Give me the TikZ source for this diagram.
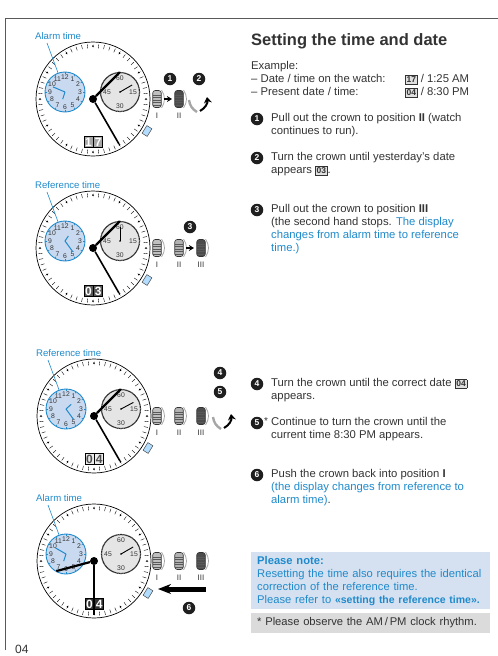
\documentclass[tikz,border=0pt]{standalone}
\usepackage{fontspec}
\setmainfont{Liberation Sans}
\usepackage{xcolor}
\usepackage{tikz}
\usetikzlibrary{positioning,arrows.meta}

\definecolor{inkblue}{HTML}{1F8ACB}
\definecolor{notefill}{HTML}{D5E1F1}
\definecolor{bluedial}{HTML}{C9DAF0}
\definecolor{inkgray}{HTML}{333333}
\newcommand{\datechip}[1]{{\setlength{\fboxsep}{.8pt}\setlength{\fboxrule}{.7pt}\fcolorbox{black!80}{black!12}{\fontsize{8.5}{8.5}\selectfont\bfseries #1}}}

\begin{document}
\begin{tikzpicture}[
  x=1pt, y=-1pt,
  dial/.style={draw, circle, line width=.7pt, minimum size=114pt, inner sep=0},
  bluesub/.style={draw=inkblue, fill=bluedial, circle, line width=.9pt, minimum size=40pt, inner sep=0},
  chronosub/.style={draw=black!85, fill=black!10, circle, line width=1.2pt, dash pattern=on .7pt off .4pt, minimum size=39pt, inner sep=0},
  hub/.style={fill=black, circle, minimum size=8pt, inner sep=0},
  pusher/.style={draw=black!70, fill=blue!45!cyan!30, line width=.5pt, minimum width=6pt, minimum height=9pt, inner sep=0},
  datecell/.style={draw, line width=.7pt, minimum width=9pt, minimum height=11pt, inner sep=0, font=\fontsize{12}{12}\selectfont\bfseries},
  dialnum/.style={inner sep=0, text=inkgray, font=\fontsize{6.8}{6.8}\selectfont},
  crown/.style={draw=black!80, fill=#1, rounded corners=2.5pt, line width=.6pt, minimum width=8.5pt, minimum height=17pt, inner sep=0,
    path picture={\foreach \rib in {-6,-3.5,...,6} {\draw[black!65, line width=.35pt] ([yshift=\rib pt]path picture bounding box.west) -- ([yshift=\rib pt]path picture bounding box.east);}}},
  crownlabel/.style={inner sep=0, text=inkgray, font=\fontsize{8}{8}\selectfont},
  stepnum/.style={fill=black!88, text=white, circle, minimum size=12.5pt, inner sep=0, font=\fontsize{8.5}{8.5}\selectfont\bfseries},
  timelabel/.style={inner sep=0, anchor=base west, text=inkblue, font=\fontsize{9.6}{9.6}\selectfont},
  para/.style={inner sep=0, anchor=north west, align=left, text=inkgray, font=\fontsize{11.3}{13}\selectfont, execute at begin node=\strut},
  notebox/.style={fill=notefill, anchor=north west, text width=227pt, align=left, inner xsep=6pt, inner ysep=2.5pt, minimum height=57pt, text=inkblue, font=\fontsize{11.2}{13}\selectfont},
  rulebox/.style={fill=black!14, text width=227pt, align=left, inner xsep=6pt, inner ysep=0, minimum height=20pt, text=inkgray, font=\fontsize{11.2}{13}\selectfont},
  pullarrow/.style={-{Stealth[length=5pt,width=6pt]}, line width=1.8pt, shorten >=2.5pt, shorten <=2pt},
  pusharrow/.style={{Stealth[length=13pt,width=10pt]}-, line width=5pt}
]
\useasboundingbox (0,0) rectangle (498,656);
\draw[black!65, line width=1pt] (5,650) -- (5,18) -- (498,18);

\foreach \wname/\wx/\wy/\wlabel/\hrang/\hrlen/\minang/\minlen/\chrang/\mainang/\mainlen/\secang/\seclen/\dateA/\dateB/\datefill/\datetext in {
  w1/93/99/Alarm time/108/7.5/203/13/-30/-45/38/60/52/1/7/black!35/white,
  w2/93/248/Reference time/-56/6/54/13/-90/-45/38/60/52/0/3/black!65/white,
  w3/94/416/Reference time/-42/7/54/13/-28/-45/38/60/52/0/4/black!8/black!70,
  w4/94/561/Alarm time/108/7.5/210/12/-30/165/39/90/54/0/4/black!80/white} {
\begin{scope}[shift={(\wx,\wy)}]
  \node[dial] (\wname-dial) at (0,0) {};
  \foreach \t in {0,6,...,354} {\draw[line width=.4pt] (\t:51) -- (\t:55);}
  \foreach \t in {0,30,...,330} {\fill[white] (\t:53) circle (2); \fill (\t:53) circle (1);}
  \node[bluesub] (\wname-blue) at (-28,-7) {};
  \foreach \t in {0,30,...,330} {\draw[inkblue, line width=.5pt, shift={(-28,-7)}] (\t:18) -- (\t:20);}
  \foreach \n in {1,...,12} {\node[dialnum] (\wname-num\n) at ([shift={(-28,-7)}]{\n*30-90}:15) {\n};}
  \draw[inkblue, line width=1pt] (\wname-blue.center) -- ([shift={(-28,-7)}]\hrang:\hrlen);
  \draw[inkblue, line width=1pt] (\wname-blue.center) -- ([shift={(-28,-7)}]\minang:\minlen);
  \node[chronosub] (\wname-chrono) at (27,-7) {};
  \node[dialnum] at (27,-21) {60};
  \node[dialnum] at (40,-7) {15};
  \node[dialnum] at (27,7) {30};
  \node[dialnum] at (14,-7) {45};
  \fill (\wname-chrono.center) circle (.9);
  \draw[line width=.9pt] (\wname-chrono.center) -- ([shift={(27,-7)}]\chrang:14);
  \node[datecell, fill=\datefill, text=\datetext] (\wname-dateA) at (-4.5,43) {\dateA};
  \node[datecell, fill=\datefill, text=\datetext, right=0pt of \wname-dateA] (\wname-dateB) {\dateB};
  \node[pusher, rotate=-32] (\wname-pusher) at (54,32) {};
  \node[hub] (\wname-hub) at (0,0) {};
  \coordinate (\wname-maintip) at (\mainang:\mainlen);
  \coordinate (\wname-sectip) at (\secang:\seclen);
  \draw[line width=2.2pt] (\wname-hub) -- (\wname-maintip);
  \draw[line width=1.6pt] (\wname-hub) -- (\wname-sectip);
  \node[timelabel] (\wname-label) at (-58,-60) {\wlabel};
  \coordinate (\wname-lead) at (-46,-56);
  \draw[inkblue, line width=.6pt] (\wname-lead) -- (\wname-blue.110);
\end{scope}
}

\foreach \wname/\wy/\crowns in {
  w1/99/{1/157/I/black!25,2/179/II/black!70},
  w2/248/{1/157/I/black!25,2/179/II/black!30,3/201/III/black!70},
  w3/416/{1/157/I/black!25,2/179/II/black!30,3/201/III/black!70},
  w4/561/{1/157/I/black!25,2/179/II/black!30,3/201/III/black!70}} {
  \foreach \cnum/\cx/\cname/\cshade in \crowns {
    \node[crown=\cshade] (\wname-c\cnum) at (\cx,\wy) {};
    \draw[black!35, line width=.8pt] (\wname-c\cnum.north east) to[bend left=35] (\wname-c\cnum.south east);
    \node[crownlabel, below=5pt of \wname-c\cnum] (\wname-l\cnum) {\cname};
  }
}
\draw[pullarrow] (w1-c1) -- (w1-c2);
\draw[pullarrow] (w2-c2) -- (w2-c3);

\foreach \turnx/\turny/\wname in {200/105/w1, 224/422/w3} {
  \begin{scope}[shift={(\turnx,\turny)}]
    \coordinate (\wname-ta) at (-11,-5);
    \coordinate (\wname-tb) at (-3,7);
    \coordinate (\wname-tc) at (0,6);
    \coordinate (\wname-td) at (7,-8);
    \draw[black!35, line width=2.4pt] (\wname-ta) to[bend right=25] (\wname-tb);
    \draw[-{Stealth[length=6pt,width=8pt]}, line width=2pt] (\wname-tc) to[bend right=35] (\wname-td);
  \end{scope}
}

\coordinate (pushtail) at (206,589);
\coordinate (pushtip) at (158,589);
\draw[pusharrow] (pushtip) -- (pushtail);

\node[stepnum] (d1) at (170,79) {1};
\node[stepnum] (d2) at (199,79) {2};
\node[stepnum] (d3) at (190,227) {3};
\node[stepnum] (d4) at (220,373) {4};
\node[stepnum] (d5) at (220,392) {5};
\node[stepnum] (d6) at (189,608) {6};

\node[inner sep=0, anchor=base west, text=inkgray, font=\fontsize{16.5}{16.5}\selectfont\bfseries] (title) at (251,45) {Setting the time and date};
\node[para] (example) at (251,61.4) {Example:\\– Date / time on the watch:\\– Present date / time:};
\node[para] (present) at (405,74.4) {\datechip{17} / 1:25 AM\\\datechip{04} / 8:30 PM};

\node[stepnum] (s1) at (257,119) {1};
\node[para] (t1) at (271,113.4) {Pull out the crown to position \textbf{II} (watch\\continues to run).};
\node[stepnum] (s2) at (257,158) {2};
\node[para] (t2) at (271,152.4) {Turn the crown until yesterday’s date\\appears \datechip{03}.};
\node[stepnum] (s3) at (257,210) {3};
\node[para] (t3) at (271,204.4) {Pull out the crown to position \textbf{III}\\(the second hand stops. \textcolor{inkblue}{The display}\\\textcolor{inkblue}{changes from alarm time to reference}\\\textcolor{inkblue}{time.)}};
\node[stepnum] (s4) at (257,384) {4};
\node[para] (t4) at (271,378.4) {Turn the crown until the correct date \datechip{04}\\appears.};
\node[stepnum] (s5) at (257,423) {5};
\node[inner sep=0, text=inkgray, font=\fontsize{10}{10}\selectfont] (star) at (266,421) {*};
\node[para] (t5) at (271,417.4) {Continue to turn the crown until the\\current time 8:30 PM appears.};
\node[stepnum] (s6) at (257,475) {6};
\node[para] (t6) at (271,469.4) {Push the crown back into position \textbf{I}\\\textcolor{inkblue}{(the display changes from reference to}\\\textcolor{inkblue}{alarm time)}.};

\node[notebox] (note) at (251,552) {\textbf{Please note:}\\Resetting the time also requires the identical\\correction of the reference time.\\Please refer to {\fontsize{10.5}{13}\selectfont\bfseries «setting the reference time».}};
\node[rulebox, below=3pt of note] (rule) {* Please observe the AM\,/\,PM clock rhythm.};

\node[inner sep=0, anchor=base west, text=inkgray, font=\fontsize{12}{12}\selectfont] (page) at (15,653) {04};
\end{tikzpicture}
\end{document}
